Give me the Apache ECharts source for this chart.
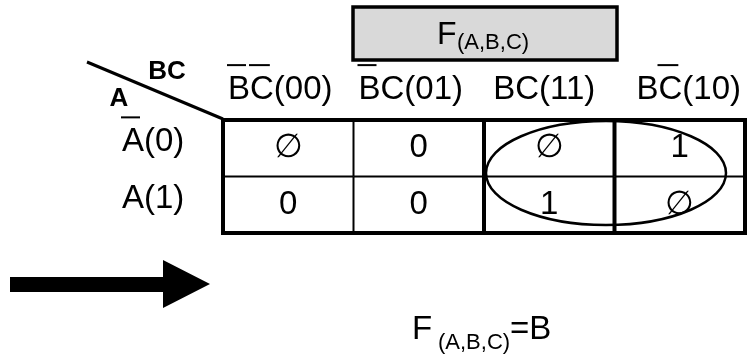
<!DOCTYPE html>
<html><head><meta charset="utf-8">
<script src="https://cdn.jsdelivr.net/npm/echarts@6/dist/echarts.min.js"></script>
<style>html,body{margin:0;padding:0;background:#fff}#c{width:752px;height:360px}</style>
</head><body><div id="c"></div>
<script>
// ---- data ----
const colLabels = ['BC(00)', 'BC(01)', 'BC(11)', 'BC(10)'];
const colBars = [[0, 1], [0], [], [1]];          // characters with an overbar
const rowLabels = ['A(0)', 'A(1)'];
const rowBars = [[0], []];
const row0 = ['∅', '0', '∅', '1'];
const row1 = ['0', '0', '1', '∅'];
const loopCols = [2, 3];
const loopRows = [0, 1];
const titleMain = 'F', titleSub = '(A,B,C)';
const resultMain = 'F', resultSub = '(A,B,C)', resultTail = '=B';
const cornerTop = 'BC', cornerLeft = 'A';

// ---- helpers ----
const FONT = '"Liberation Sans", Arial, Helvetica, sans-serif';
const mctx = document.createElement('canvas').getContext('2d');
function tw(str, size, weight) {
  mctx.font = (weight || 'normal') + ' ' + size + 'px ' + FONT;
  return mctx.measureText(str).width;
}
function txt(str, x, y, size, align, weight) {
  return { type: 'text', x: x, y: y, silent: true,
    style: { text: str, fill: '#000', fontSize: size, fontFamily: FONT, fontWeight: weight || 'normal',
      align: align || 'left', verticalAlign: 'middle' } };
}
function barLabel(str, bars, left, yMid, size) {
  const out = [txt(str, left, yMid, size, 'left')];
  const yb = yMid - size * 0.36 - 13;
  bars.forEach(function (i) {
    const a = left + tw(str.slice(0, i), size);
    const b = left + tw(str.slice(0, i + 1), size);
    out.push({ type: 'line', silent: true, shape: { x1: a - 1, y1: yb, x2: b - 4, y2: yb },
      style: { stroke: '#000', lineWidth: 2 } });
  });
  return out;
}

const cells = [];
[row0, row1].forEach(function (row, r) { row.forEach(function (v, c) { cells.push({ c: c, r: r, v: v }); }); });
const innerV = [2, 4, 4];
const headOffset = [-8, -8, -5, 9];
const BIG = 33;

const chart = echarts.init(document.getElementById('c'), null, { renderer: 'canvas' });
chart.setOption({
  animation: false,
  backgroundColor: '#fff',
  grid: { left: 223, top: 120, width: 522, height: 113, show: true, borderColor: '#000', borderWidth: 4, backgroundColor: '#fff' },
  xAxis: { type: 'category', data: colLabels, show: false },
  yAxis: { type: 'category', data: rowLabels, inverse: true, show: false },
  series: [
    { type: 'custom', clip: false, silent: true, z: 2,
      data: cells.map(function (d) { return [d.c, d.r]; }),
      renderItem: function (params, api) {
        const d = cells[params.dataIndex];
        const p = api.coord([d.c, d.r]);
        const s = api.size([1, 1]);
        const ch = [txt(d.v, p[0], p[1], BIG, 'center')];
        if (d.c < 3) {
          const x = p[0] + s[0] / 2;
          ch.push({ type: 'line', shape: { x1: x, y1: p[1] - s[1] / 2, x2: x, y2: p[1] + s[1] / 2 },
            style: { stroke: '#000', lineWidth: innerV[d.c] } });
        }
        if (d.r === 0) {
          const y = p[1] + s[1] / 2;
          ch.push({ type: 'line', shape: { x1: p[0] - s[0] / 2, y1: y, x2: p[0] + s[0] / 2, y2: y },
            style: { stroke: '#000', lineWidth: 2 } });
        }
        return { type: 'group', children: ch };
      } },
    { type: 'custom', clip: false, silent: true, z: 3,
      data: colLabels.map(function (_, i) { return [i, 0]; }),
      renderItem: function (params, api) {
        const i = params.dataIndex;
        const p = api.coord([i, 0]);
        const w = tw(colLabels[i], BIG);
        return { type: 'group', children: barLabel(colLabels[i], colBars[i], p[0] + headOffset[i] - w / 2, 90, BIG) };
      } },
    { type: 'custom', clip: false, silent: true, z: 3,
      data: rowLabels.map(function (_, r) { return [0, r]; }),
      renderItem: function (params, api) {
        const r = params.dataIndex;
        const p = api.coord([0, r]);
        return { type: 'group', children: barLabel(rowLabels[r], rowBars[r], 122, p[1] - 6, BIG) };
      } },
    { type: 'custom', clip: false, silent: true, z: 4,
      data: [[loopCols[0], loopRows[0]]],
      renderItem: function (params, api) {
        const a = api.coord([loopCols[0], loopRows[0]]);
        const b = api.coord([loopCols[1], loopRows[1]]);
        const s = api.size([1, 1]);
        const left = a[0] - s[0] / 2 + 2, right = b[0] + s[0] / 2 - 19;
        const top = a[1] - s[1] / 2 + 1, bottom = b[1] + s[1] / 2 - 8;
        return { type: 'ellipse', shape: { cx: (left + right) / 2, cy: (top + bottom) / 2, rx: (right - left) / 2, ry: (bottom - top) / 2 },
          style: { fill: null, stroke: '#000', lineWidth: 2.5 } };
      } }
  ],
  graphic: [
    { type: 'rect', shape: { x: 353, y: 7, width: 264, height: 53 }, style: { fill: '#d9d9d9', stroke: '#000', lineWidth: 3.5 } },
    txt(titleMain, 437, 35, 32, 'left'),
    txt(titleSub, 457, 43, 22, 'left'),
    { type: 'line', shape: { x1: 87, y1: 62, x2: 223, y2: 119 }, style: { stroke: '#000', lineWidth: 3 } },
    txt(cornerTop, 167, 72, 26, 'center', 'bold'),
    txt(cornerLeft, 119, 99, 26, 'center', 'bold'),
    { type: 'polygon', shape: { points: [[10, 277], [163, 277], [163, 260], [210, 284], [163, 308], [163, 292], [10, 292]] }, style: { fill: '#000' } },
    txt(resultMain, 412, 330, 33, 'left'),
    txt(resultSub, 438, 343, 22, 'left'),
    txt(resultTail, 510, 330, 33, 'left')
  ]
});
</script>
</body></html>
